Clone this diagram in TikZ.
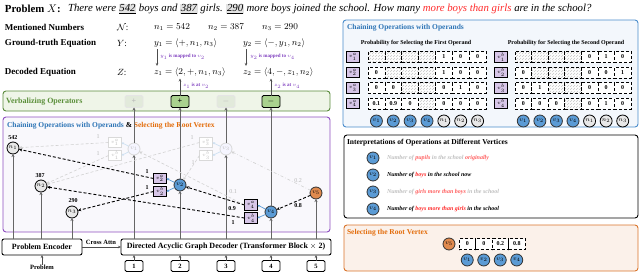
\documentclass[tikz,border=0pt]{standalone}
\usepackage{fontspec}
\setmainfont{Liberation Serif}
\usetikzlibrary{arrows.meta,patterns,calc}
\definecolor{gframe}{HTML}{5A8A3C}
\definecolor{gfill}{HTML}{EFF5E8}
\definecolor{gtitle}{HTML}{5B8F3A}
\definecolor{opg}{HTML}{A9D18E}
\definecolor{fopg}{HTML}{E2EADB}
\definecolor{pframe}{HTML}{8E4EC0}
\definecolor{pfill}{HTML}{F9F8FC}
\definecolor{bframe}{HTML}{4A8CCB}
\definecolor{bfill}{HTML}{F3F7FC}
\definecolor{btitle}{HTML}{2E75B6}
\definecolor{oframe}{HTML}{D9742B}
\definecolor{ofill}{HTML}{FBF1EA}
\definecolor{otitle}{HTML}{E36C0A}
\definecolor{vblue}{HTML}{5B9BD5}
\definecolor{vorange}{HTML}{E08A4E}
\definecolor{lav}{HTML}{D7C6E8}
\definecolor{plab}{HTML}{7F3FBF}
\definecolor{hred}{HTML}{FF2A2A}
\definecolor{vlc}{HTML}{666666}
\newcommand{\fsz}[1]{\fontsize{#1}{#1}\selectfont}
\newcommand{\hlnum}[1]{{\setlength{\fboxsep}{0.6pt}\colorbox{gray!22}{\underline{#1}}}}
\begin{document}
\begin{tikzpicture}[x=1pt,y=-1pt,
  every node/.style={inner sep=0pt,outer sep=0pt},
  lbl/.style={anchor=west,font=\bfseries\fsz{9}},
  eqn/.style={anchor=west,font=\fsz{9}},
  plbl/.style={anchor=west,font=\bfseries\fsz{5},text=plab},
  panel/.style={anchor=north west,rounded corners=3pt,line width=0.9pt},
  opr/.style={draw=black,fill=opg,rounded corners=1.5pt,minimum width=18pt,minimum height=12pt,line width=0.9pt,font=\bfseries\fsz{8}},
  fopr/.style={draw=gray!20,fill=fopg,rounded corners=1.5pt,minimum width=18pt,minimum height=12pt,line width=0.9pt,text=gray!55,font=\bfseries\fsz{8}},
  ncirc/.style={circle,draw=black,fill=gray!18,minimum size=12pt,line width=0.8pt,font=\fsz{6.5}},
  vcirc/.style={circle,draw=black!80,fill=vblue,minimum size=12pt,line width=0.8pt,font=\fsz{6.5}},
  fvcirc/.style={circle,draw=gray!30,fill=blue!4,minimum size=12pt,line width=0.8pt,text=gray!50,font=\fsz{6.5}},
  ocirc/.style={circle,draw=black!80,fill=vorange,minimum size=12pt,line width=0.8pt,font=\fsz{6.5}},
  lbox/.style={draw=black,fill=lav,minimum width=13pt,minimum height=10.5pt,line width=0.8pt,font=\fsz{5.5}},
  flbox/.style={draw=gray!30,fill=white,minimum width=13pt,minimum height=10.5pt,line width=0.8pt,text=gray!50,font=\fsz{5.5}},
  wt/.style={font=\bfseries\fsz{6}},
  fwt/.style={font=\fsz{6},text=gray!55},
  dedge/.style={densely dashed,line width=0.9pt,-{Stealth[length=3.5pt,width=3pt]}},
  fedge/.style={densely dashed,line width=0.6pt,draw=gray!35,-{Stealth[length=3pt,width=3pt]}},
  barrow/.style={draw=vblue,line width=0.7pt,-{Stealth[length=2.5pt,width=2.5pt]}},
  fbarrow/.style={draw=vblue!30,line width=0.7pt,-{Stealth[length=2.5pt,width=2.5pt]}},
  vl/.style={draw=vlc,line width=0.8pt,-{Stealth[length=3pt,width=3pt]}},
  thin arr/.style={draw=black!70,line width=0.6pt,-{Stealth[length=3pt,width=2.5pt]}},
  blk/.style={draw=black,fill=white,rounded corners=2pt,line width=0.9pt,font=\bfseries\fsz{8}},
  inbox/.style={draw=black,fill=white,rounded corners=1.5pt,minimum width=18pt,minimum height=11pt,line width=0.9pt,font=\bfseries\fsz{6.5}},
  tcell/.style={draw=black,densely dashed,fill=white,minimum height=11pt,line width=0.7pt,font=\bfseries\fsz{6}},
  hcell/.style={draw=black,densely dashed,pattern=north east lines,pattern color=gray!45,minimum height=11pt,line width=0.7pt},
  itxt/.style={anchor=west,font=\bfseries\itshape\fsz{6}}
]
\useasboundingbox (0,0) rectangle (640,273);

% ---------- top text ----------
\node[anchor=west] (ptitle) at (5,9) {\fsz{10.8}\textbf{Problem} $X$\textbf{:}};
\node[anchor=west] (psent) at (68,9) {\fsz{10.8}\itshape There were \hlnum{542} boys and \hlnum{387} girls. \hlnum{290} more boys joined the school. How many \textcolor{hred}{more boys than girls} are in the school?};

\node[lbl] (mn) at (5,27) {Mentioned Numbers};
\node[lbl] (gt) at (5,43) {Ground-truth Equation};
\node[lbl] (de) at (5,72) {Decoded Equation};
\node[eqn] (Nsym) at (117,27) {$\mathcal{N}$:};
\node[eqn] (Ysym) at (117,43) {$Y$:};
\node[eqn] (Zsym) at (117,72) {$Z$:};
\node[eqn] (nn1) at (154,27) {$n_1=542$};
\node[eqn] (nn2) at (208,27) {$n_2=387$};
\node[eqn] (nn3) at (262,27) {$n_3=290$};
\node[eqn] (y1) at (154,43) {$y_1=\langle +,n_1,n_3\rangle$};
\node[eqn] (y2) at (243,43) {$y_2=\langle -,y_1,n_2\rangle$};
\node[eqn] (z1) at (154,72) {$z_1=\langle 2,+,n_1,n_3\rangle$};
\node[eqn] (z2) at (243,72) {$z_2=\langle 4,-,z_1,n_2\rangle$};
\draw[thin arr] ([xshift=3pt,yshift=-1.5pt]y1.south west) -- ([xshift=3pt,yshift=1.5pt]y1.south west |- z1.north);
\draw[thin arr] ([xshift=3pt,yshift=-1.5pt]y2.south west) -- ([xshift=3pt,yshift=1.5pt]y2.south west |- z1.north);
\node[plbl] (m1) at (160,57) {$y_1$ is mapped to $v_2$};
\node[plbl] (m2) at (250,57) {$y_2$ is mapped to $v_4$};

% ---------- panels ----------
\node[panel,draw=gframe,fill=gfill,minimum width=327pt,minimum height=20pt] (gpanel) at (3,91) {};
\node[panel,draw=pframe,fill=pfill,minimum width=327pt,minimum height=115pt] (ppanel) at (3,117) {};
\node[panel,draw=bframe,fill=bfill,minimum width=295pt,minimum height=107pt] (bpanel) at (343,20) {};
\node[panel,draw=black,fill=white,minimum width=294pt,minimum height=83pt] (ipanel) at (344,135) {};
\node[panel,draw=oframe,fill=ofill,minimum width=294pt,minimum height=46pt] (opanel) at (344,225) {};

\node[anchor=west,font=\bfseries\fsz{8},text=gtitle] (gtit) at (6,101.5) {Verbalizing Operators};
\node[anchor=west,font=\bfseries\fsz{7.5}] (ptit) at (7,126) {\textcolor{btitle}{Chaining Operations with Operands} \& \textcolor{otitle}{Selecting the Root Vertex}};

% operators
\node[fopr] (op1) at (134,101.5) {+};
\node[opr] (op2) at (180,101.5) {+};
\node[fopr] (op3) at (226,101.5) {$-$};
\node[opr] (op4) at (271,101.5) {$-$};
\draw[thin arr,shorten >=2pt] (op2.north) -- (op2.north |- z1.south);
\draw[thin arr,shorten >=2pt] (op4.north) -- (op4.north |- z2.south);
\node[plbl] (a1) at (183,86) {$z_1$ is at $v_2$};
\node[plbl] (a2) at (274,86) {$z_2$ is at $v_4$};

% ---------- bottom blocks ----------
\node[blk,minimum width=80pt,minimum height=16pt] (enc) at (42,247) {Problem Encoder};
\node[blk,minimum width=210pt,minimum height=16pt] (dec) at (226,247) {Directed Acyclic Graph Decoder (Transformer Block $\times$ 2)};
\node[font=\bfseries\fsz{6.5}] (prob) at (42,267) {Problem};
\node[font=\bfseries\fsz{6.5}] (cross) at (101,242) {Cross Attn};
\draw[thin arr] (prob.north) -- (enc.south);
\draw[thin arr] (enc.east) -- (dec.west);
\foreach \i/\x in {1/134,2/180,3/226,4/271,5/316}{
  \node[inbox] (in\i) at (\x,266) {\i};
  \draw[thin arr] (in\i.north) -- (in\i.north |- dec.south);
}

% ---------- graph nodes ----------
\node[ncirc] (n1) at (13,148) {$n_1$};
\node[ncirc] (n2) at (41,186) {$n_2$};
\node[ncirc] (n3) at (72,212) {$n_3$};
\node[wt] (l1) at (13,138) {542};
\node[wt] (l2) at (40,176) {387};
\node[wt] (l3) at (73,201) {290};

\node[fvcirc] (v1) at (134,149) {$v_1$};
\node[flbox] (v1a) at (115,142.5) {$v_1^a$};
\node[flbox] (v1b) at (115,155.5) {$v_1^b$};
\node[vcirc] (v2) at (180,185) {$v_2$};
\node[lbox] (v2a) at (160,178.5) {$v_2^a$};
\node[lbox] (v2b) at (160,191.5) {$v_2^b$};
\node[fvcirc] (v3) at (226,149) {$v_3$};
\node[flbox] (v3a) at (206,142.5) {$v_3^a$};
\node[flbox] (v3b) at (206,155.5) {$v_3^b$};
\node[vcirc] (v4) at (271,212) {$v_4$};
\node[lbox] (v4a) at (251,205) {$v_4^a$};
\node[lbox] (v4b) at (251,218) {$v_4^b$};
\node[ocirc] (v5) at (316,193) {$v_5$};

% vertical lines
\foreach \n in {n1,n2,n3}{ \draw[vl] (enc.north -| \n.south) -- (\n.south); }
\foreach \v in {v1,v2,v3,v4,v5}{ \draw[vl] (dec.north -| \v.south) -- (\v.south); }
\draw[vl] (v1.north) -- (op1.south);
\draw[vl] (v2.north) -- (op2.south);
\draw[vl] (v3.north) -- (op3.south);
\draw[vl] (v4.north) -- (op4.south);

% faded edges
\draw[fedge] (v1a.west) -- (n1);
\draw[fedge] (v1b.west) -- (n2);
\draw[fedge] (v3a.west) -- (n2);
\draw[fedge] (v3b.west) -- (v2);
\draw[fedge] (v4a.west) -- (v1);
\draw[fedge,dash dot] (v5) -- (v3);
\node[fwt] (w1) at (98,137) {1};
\node[fwt] (w2) at (98,154) {1};
\node[fwt] (w3) at (192,138) {1};
\node[fwt] (w4) at (193,163) {1};
\node[fwt] (w5) at (233,192) {0.1};
\node[fwt] (w6) at (298,181) {0.2};
% solid edges
\draw[dedge] (v2a.west) -- (n1);
\draw[dedge] (v2b.west) -- (n3);
\draw[dedge] (v4a.west) -- (v2);
\draw[dedge] (v4b.west) -- (n2);
\draw[dedge] (v5) -- (v4);
\node[wt] (w7) at (147,172) {1};
\node[wt] (w8) at (147,188) {1};
\node[wt] (w9) at (232,209) {0.9};
\node[wt] (w10) at (233,223) {1};
\node[wt] (w11) at (298,206) {0.8};
% blue pointers
\draw[fbarrow] (v1) -- (v1a.east);
\draw[fbarrow] (v1) -- (v1b.east);
\draw[barrow] (v2) -- (v2a.east);
\draw[barrow] (v2) -- (v2b.east);
\draw[fbarrow] (v3) -- (v3a.east);
\draw[fbarrow] (v3) -- (v3b.east);
\draw[barrow] (v4) -- (v4a.east);
\draw[barrow] (v4) -- (v4b.east);

% ---------- right: chaining tables ----------
\node[anchor=west,font=\bfseries\fsz{7.5},text=btitle] (btit) at (347,28) {Chaining Operations with Operands};
\node[font=\bfseries\fsz{6}] (p1t) at (416,43) {Probability for Selecting the First Operand};
\node[font=\bfseries\fsz{6}] (p2t) at (566,43) {Probability for Selecting the Second Operand};

\foreach \r/\vals in {1/{{},{},{},{},1,0,0},2/{0,{},{},{},1,0,0},3/{0,0,{},{},0,1,0},4/{0.1,0.9,0,{},0,0,0}}{
  \node[lbox] (ta\r) at (353,{57+15.5*(\r-1)}) {$v_{\r}^{a}$};
  \foreach \v [count=\c] in \vals {
    \node[tcell,minimum width=16.86pt] (ta\r c\c) at ({368+16.86*(\c-0.5)},{57+15.5*(\r-1)}) {\v};
  }
  \foreach \c in {\r,...,4}{
    \node[hcell,minimum width=16.86pt] (ha\r c\c) at ({368+16.86*(\c-0.5)},{57+15.5*(\r-1)}) {};
  }
}
\foreach \r/\vals in {1/{{},{},{},{},0,1,0},2/{0,{},{},{},0,0,1},3/{0,1,{},{},0,0,0},4/{0,0,0,{},0,1,0}}{
  \node[lbox] (tb\r) at (501,{57+15.5*(\r-1)}) {$v_{\r}^{b}$};
  \foreach \v [count=\c] in \vals {
    \node[tcell,minimum width=16.57pt] (tb\r c\c) at ({515+16.57*(\c-0.5)},{57+15.5*(\r-1)}) {\v};
  }
  \foreach \c in {\r,...,4}{
    \node[hcell,minimum width=16.57pt] (hb\r c\c) at ({515+16.57*(\c-0.5)},{57+15.5*(\r-1)}) {};
  }
}
\foreach \c in {1,2,3,4}{
  \node[vcirc] (ca\c) at ({368+16.86*(\c-0.5)},121) {$v_{\c}$};
  \node[vcirc] (cb\c) at ({515+16.57*(\c-0.5)},121) {$v_{\c}$};
}
\foreach \c in {1,2,3}{
  \node[ncirc] (na\c) at ({368+16.86*(\c+3.5)},121) {$n_{\c}$};
  \node[ncirc] (nb\c) at ({515+16.57*(\c+3.5)},121) {$n_{\c}$};
}

% ---------- interpretations ----------
\node[anchor=west,font=\bfseries\fsz{7.5}] (itit) at (347,143) {Interpretations of Operations at Different Vertices};
\node[vcirc] (iv1) at (373,158) {$v_1$};
\node[vcirc] (iv2) at (373,175) {$v_2$};
\node[vcirc] (iv3) at (373,192) {$v_3$};
\node[vcirc] (iv4) at (373,209) {$v_4$};
\node[itxt] (it1) at (387,158) {\textcolor{gray!50}{Number of} \textcolor{hred!75}{pupils} \textcolor{gray!50}{in the school} \textcolor{hred!75}{originally}};
\node[itxt] (it2) at (387,175) {Number of \textcolor{hred}{boys} in the school now};
\node[itxt] (it3) at (387,192) {\textcolor{gray!50}{Number of} \textcolor{hred!75}{girls more than boys} \textcolor{gray!50}{in the school}};
\node[itxt] (it4) at (387,209) {Number of \textcolor{hred}{boys more than girls} in the school};

% ---------- root selection ----------
\node[anchor=west,font=\bfseries\fsz{7.5},text=otitle] (otit) at (347,233) {Selecting the Root Vertex};
\node[ocirc] (rv5) at (449,244) {$v_5$};
\foreach \v [count=\c] in {0,0,0.2,0.8}{
  \node[tcell,minimum width=16.5pt] (rc\c) at ({459+16.5*(\c-0.5)},244) {\v};
  \node[vcirc] (rv\c) at ({459+16.5*(\c-0.5)},260) {$v_{\c}$};
}
\end{tikzpicture}
\end{document}
